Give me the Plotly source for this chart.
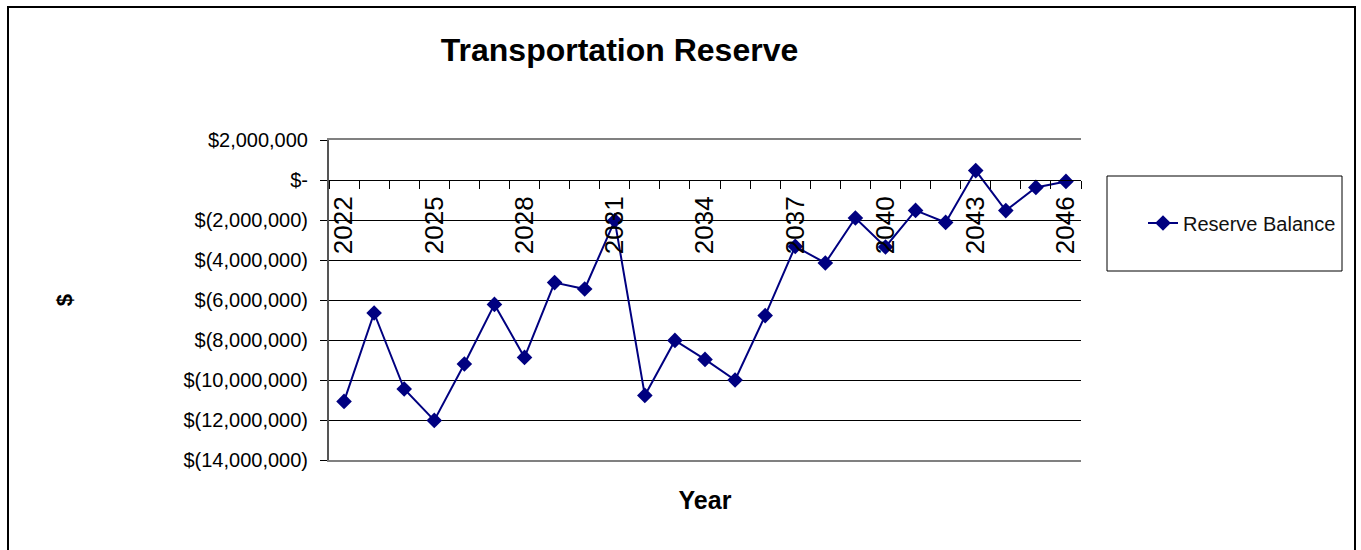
import plotly.graph_objects as go

years = list(range(2022, 2047))
reserve_balance = [
    -11.07e6, -6.65e6, -10.45e6, -12.02e6, -9.20e6, -6.22e6, -8.87e6,
    -5.13e6, -5.45e6, -2.03e6, -10.77e6, -8.02e6, -8.97e6, -10.00e6,
    -6.78e6, -3.32e6, -4.15e6, -1.90e6, -3.35e6, -1.52e6, -2.12e6,
    0.47e6, -1.53e6, -0.37e6, -0.07e6,
]
label_years = years[::3]
y_tickvals = [2e6, 0, -2e6, -4e6, -6e6, -8e6, -10e6, -12e6, -14e6]
y_ticktext = ["$2,000,000", "$-", "$(2,000,000)", "$(4,000,000)", "$(6,000,000)",
              "$(8,000,000)", "$(10,000,000)", "$(12,000,000)", "$(14,000,000)"]

FONT = "Arial, Liberation Sans, sans-serif"
NAVY = "#000080"

W, H = 1361, 550
L, R, T, B = 329, 1081, 140, 460

fig = go.Figure()
fig.add_trace(go.Scatter(
    x=years, y=reserve_balance, mode="lines+markers", name="Reserve Balance",
    line=dict(color=NAVY, width=2),
    marker=dict(symbol="diamond", size=12, color=NAVY),
))
# invisible trace on the bottom frame axis
fig.add_trace(go.Scatter(x=[years[0]], y=[reserve_balance[0]], xaxis="x2",
                         mode="markers", marker=dict(opacity=0), showlegend=False,
                         hoverinfo="skip"))

xr = [years[0] - 0.5, years[-1] + 0.5]
yr = [min(y_tickvals), max(y_tickvals)]
zero_pos = (0 - yr[0]) / (yr[1] - yr[0])

fig.update_layout(
    width=W, height=H,
    margin=dict(l=L, r=W - R, t=T, b=H - B, autoexpand=False),
    paper_bgcolor="white", plot_bgcolor="white",
    font=dict(family=FONT, color="black"),
    title=dict(text="<b>Transportation Reserve</b>", x=619.5 / W, xanchor="center",
               y=1 - 50 / H, yanchor="middle", font=dict(size=32, family=FONT, color="black")),
    showlegend=True,
    legend=dict(x=(1143 - L) / (R - L), y=(460 - 223) / (B - T), xanchor="left", yanchor="middle",
                bgcolor="rgba(0,0,0,0)", borderwidth=0, font=dict(size=20, family=FONT, color="#111")),
    xaxis=dict(
        range=xr, anchor="free", position=zero_pos, side="bottom",
        showline=True, linecolor="black", linewidth=1,
        showgrid=False, zeroline=False,
        tickmode="array", tickvals=label_years, ticktext=[str(y) for y in label_years],
        tickangle=-90, ticks="outside", ticklen=8, tickcolor="rgba(0,0,0,0)",
        ticklabelstandoff=-3,
        tickfont=dict(size=26, family=FONT, color="black"),
        minor=dict(ticks="outside", ticklen=8, tickcolor="black", tickwidth=1,
                   tickmode="array", tickvals=[y - 0.5 for y in years] + [years[-1] + 0.5],
                   showgrid=False),
    ),
    xaxis2=dict(
        range=xr, overlaying="x", anchor="y", side="bottom",
        showline=True, mirror=True, linecolor="#808080", linewidth=2,
        showgrid=False, zeroline=False, showticklabels=False, ticks="",
        title=dict(text="<b>Year</b>", font=dict(size=25, family=FONT, color="black"), standoff=30),
    ),
    yaxis=dict(
        range=yr, showline=True, linecolor="#555", linewidth=2, mirror=False,
        showgrid=True, gridcolor="black", gridwidth=1, zeroline=False,
        tickmode="array", tickvals=y_tickvals, ticktext=y_ticktext,
        ticks="outside", ticklen=7, tickcolor="black", ticklabelstandoff=8,
        tickfont=dict(size=20, family=FONT, color="black"),
        title=dict(text="<b>$</b>", font=dict(size=22, family=FONT, color="black"), standoff=105),
    ),
)

# chart frame and legend box (decorations)
fig.add_shape(type="rect", xref="paper", yref="paper",
              x0=(8 - L) / (R - L), x1=(1355 - L) / (R - L),
              y0=(B - 560) / (B - T), y1=(B - 7) / (B - T),
              line=dict(color="black", width=2), fillcolor="rgba(0,0,0,0)", layer="below")
fig.add_shape(type="rect", xref="paper", yref="paper",
              x0=(1107 - L) / (R - L), x1=(1342 - L) / (R - L),
              y0=(B - 271) / (B - T), y1=(B - 176) / (B - T),
              line=dict(color="black", width=1), fillcolor="rgba(0,0,0,0)")

fig.write_html("out.html", config={"displayModeBar": False},
               post_script="document.body.style.margin='0';")
